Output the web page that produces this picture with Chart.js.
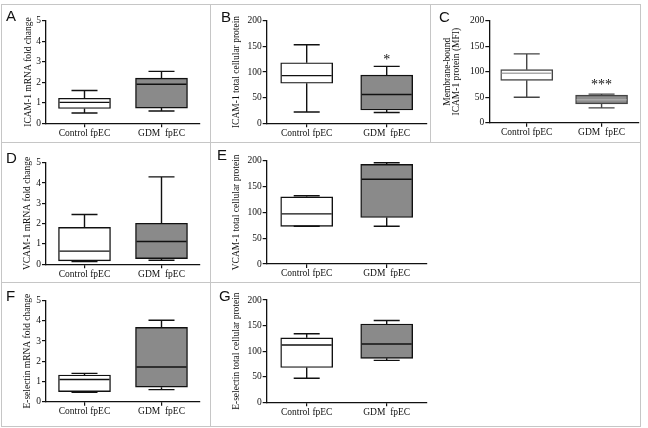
<!DOCTYPE html>
<html><head><meta charset="utf-8">
<script src="https://cdn.jsdelivr.net/npm/chart.js@4.4.0/dist/chart.umd.min.js"></script>
<style>
html,body{margin:0;padding:0;background:#fff;}
#wrap{position:relative;width:648px;height:428px;overflow:hidden;background:#fff;}
.ln{position:absolute;background:#c6c6c6;}
canvas{position:absolute;}
.lt{position:absolute;font-family:"Liberation Sans",Arial,sans-serif;font-size:15px;line-height:15px;color:#111;}
</style></head><body><div id="wrap"></div>
<script>
// categories
const categories = ['Control fpEC', 'GDM  fpEC'];
// box statistics: [min, q1, median, q3, max]
const icamMrnaControl    = [0.50, 0.72, 1.02, 1.22, 1.60];
const icamMrnaGdm        = [0.60, 0.74, 1.90, 2.20, 2.53];
const icamProteinControl = [22, 78, 93, 118, 153];
const icamProteinGdm     = [21, 26, 56, 94, 111];
const icamMfiControl     = [50, 83, 97, 104, 135];
const icamMfiGdm         = [29, 37, 45, 54, 56];
const vcamMrnaControl    = [0.13, 0.17, 0.65, 1.82, 2.45];
const vcamMrnaGdm        = [0.20, 0.28, 1.12, 2.02, 4.30];
const vcamProteinControl = [73, 73, 97, 130, 132];
const vcamProteinGdm     = [73, 90, 164, 193, 196];
const eselMrnaControl    = [0.46, 0.50, 1.10, 1.32, 1.40];
const eselMrnaGdm        = [0.60, 0.72, 1.72, 3.68, 4.03];
const eselProteinControl = [47, 68, 112, 126, 134];
const eselProteinGdm     = [82, 86, 114, 153, 160];
// significance marks and the value they sit at
const icamProteinStars = ['', '*'];
const icamProteinStarAt = [0, 116];
const icamMfiStars = ['', '***'];
const icamMfiStarAt = [0, 67];
const noStars = ['', ''];
const noStarAt = [0, 0];
// tick labels
const foldTicks = [0, 1, 2, 3, 4, 5];
const proteinTicks = [0, 50, 100, 150, 200];

const SERIF = '"Liberation Serif","Times New Roman",serif';
const INK = '#111';

const boxPlugin = {
  id: 'boxWhisker',
  afterDatasetsDraw(chart, args, o) {
    const ctx = chart.ctx, y = chart.scales.y;
    const meta = chart.getDatasetMeta(0);
    ctx.save();
    ctx.lineCap = 'butt';
    meta.data.forEach((bar, i) => {
      const s = o.stats[i];
      const x = bar.x, hw = bar.width / 2, cw = hw / 2;
      const pMin = y.getPixelForValue(s[0]), pQ1 = y.getPixelForValue(s[1]),
            pMed = y.getPixelForValue(s[2]), pQ3 = y.getPixelForValue(s[3]),
            pMax = y.getPixelForValue(s[4]);
      ctx.strokeStyle = o.lineColor;
      ctx.lineWidth = o.lineWidth;
      ctx.beginPath();
      if (s[4] > s[3]) {
        ctx.moveTo(x, pQ3); ctx.lineTo(x, pMax);
      }
      ctx.moveTo(x - cw, pMax); ctx.lineTo(x + cw, pMax);
      if (s[0] < s[1]) {
        ctx.moveTo(x, pQ1); ctx.lineTo(x, pMin);
      }
      ctx.moveTo(x - cw, pMin); ctx.lineTo(x + cw, pMin);
      ctx.stroke();
      ctx.beginPath();
      ctx.strokeStyle = o.medianColor;
      ctx.moveTo(x - hw + 1, pMed); ctx.lineTo(x + hw - 1, pMed);
      ctx.stroke();
      if (o.stars[i]) {
        ctx.fillStyle = INK;
        ctx.font = '14px ' + SERIF;
        ctx.textAlign = 'center';
        ctx.textBaseline = 'alphabetic';
        ctx.fillText(o.stars[i], x, y.getPixelForValue(o.starAt[i]));
      }
    });
    ctx.restore();
  }
};

const panels = [
  {letter:'A', title:'ICAM-1 mRNA fold change', stats:[icamMrnaControl, icamMrnaGdm], ticks:foldTicks, stars:noStars, starAt:noStarAt,
   rect:[1,4,210,139], area:[46,200,20.7,123.3], titleX:28, lp:[6,21]},
  {letter:'B', title:'ICAM-1 total cellular protein', stats:[icamProteinControl, icamProteinGdm], ticks:proteinTicks, stars:icamProteinStars, starAt:icamProteinStarAt,
   rect:[211,4,220,139], area:[266.7,426.7,20.7,123.3], titleX:236.7, lp:[221,21.7]},
  {letter:'C', title:['Membrane-bound','ICAM-1 protein (MFI)'], stats:[icamMfiControl, icamMfiGdm], ticks:proteinTicks, stars:icamMfiStars, starAt:icamMfiStarAt,
   rect:[431,4,209,139], area:[489.3,639,20.7,122.7], titleX:447, lp:[439,22], titleLH:1.0, lineColor:'#444', medianColor:'#aaa', gdmFill:'#8e8e8e'},
  {letter:'D', title:'VCAM-1 mRNA fold change', stats:[vcamMrnaControl, vcamMrnaGdm], ticks:foldTicks, stars:noStars, starAt:noStarAt,
   rect:[1,143,210,139], area:[46,200,162.7,264.3], titleX:27.5, lp:[6,163]},
  {letter:'E', title:'VCAM-1 total cellular protein', stats:[vcamProteinControl, vcamProteinGdm], ticks:proteinTicks, stars:noStars, starAt:noStarAt,
   rect:[211,143,220,139], area:[266.7,426.7,160.7,264], titleX:236.5, lp:[217,160]},
  {letter:'F', title:'E-selectin mRNA fold change', stats:[eselMrnaControl, eselMrnaGdm], ticks:foldTicks, stars:noStars, starAt:noStarAt,
   rect:[1,282,210,144], area:[46,200,300.7,401.7], titleX:27.5, lp:[6,301]},
  {letter:'G', title:'E-selectin total cellular protein', stats:[eselProteinControl, eselProteinGdm], ticks:proteinTicks, stars:noStars, starAt:noStarAt,
   rect:[211,282,220,144], area:[266.7,426.7,300,402.3], titleX:236.5, lp:[219,301]}
];

const wrap = document.getElementById('wrap');
function line(x, y, w, h) {
  const d = document.createElement('div');
  d.className = 'ln';
  d.style.left = x + 'px'; d.style.top = y + 'px';
  d.style.width = w + 'px'; d.style.height = h + 'px';
  wrap.appendChild(d);
}
// panel frame lines
line(1, 4, 640, 1);
line(1, 426, 640, 1);
line(1, 4, 1, 423);
line(640, 4, 1, 423);
line(210, 4, 1, 423);
line(430, 4, 1, 139);
line(1, 142, 640, 1);
line(1, 282, 640, 1);

panels.forEach(p => {
  const [bx, by, bw, bh] = p.rect;
  const [l, r, t, b] = p.area;
  const lhF = p.titleLH || 1.2;
  const tSize = 9.5;
  const padL = p.titleX - (tSize * lhF) / 2 - bx;
  const padT = t - by;
  const padR = bx + bw - r;
  const xH = by + bh - b;
  const yW = l - bx - padL;
  const cv = document.createElement('canvas');
  cv.width = bw; cv.height = bh;
  cv.style.left = bx + 'px'; cv.style.top = by + 'px';
  cv.style.width = bw + 'px'; cv.style.height = bh + 'px';
  wrap.appendChild(cv);
  const lt = document.createElement('div');
  lt.className = 'lt';
  lt.textContent = p.letter;
  lt.style.left = p.lp[0] + 'px';
  lt.style.top = (p.lp[1] - 12.7) + 'px';
  wrap.appendChild(lt);
  const lineColor = p.lineColor || INK;
  new Chart(cv, {
    type: 'bar',
    data: {
      labels: categories,
      datasets: [{
        data: p.stats.map(s => [s[1], s[3]]),
        backgroundColor: ['#ffffff', p.gdmFill || '#8a8a8a'],
        borderColor: lineColor,
        borderWidth: 1.4,
        borderSkipped: false,
        barThickness: 52
      }]
    },
    options: {
      responsive: false,
      animation: false,
      devicePixelRatio: 1,
      layout: {padding: {left: padL, top: padT, right: padR, bottom: 0}},
      plugins: {
        legend: {display: false},
        tooltip: {enabled: false},
        boxWhisker: {stats: p.stats, stars: p.stars, starAt: p.starAt, lineColor: lineColor, lineWidth: 1.4, medianColor: p.medianColor || INK}
      },
      scales: {
        x: {
          type: 'category',
          offset: true,
          grid: {display: true, drawOnChartArea: false, drawTicks: true, tickLength: 4, offset: false, color: INK, tickColor: INK, lineWidth: 1.2},
          border: {display: true, color: INK, width: 1.3},
          ticks: {font: {family: SERIF, size: tSize}, color: INK, padding: 0, maxRotation: 0, autoSkip: false},
          afterFit(s) { s.height = xH; }
        },
        y: {
          min: p.ticks[0],
          max: p.ticks[p.ticks.length - 1],
          afterBuildTicks(s) { s.ticks = p.ticks.map(v => ({value: v})); },
          grid: {display: true, drawOnChartArea: false, drawTicks: true, tickLength: 4, color: INK, tickColor: INK, lineWidth: 1.2},
          border: {display: true, color: INK, width: 1.3},
          ticks: {font: {family: SERIF, size: tSize}, color: INK, padding: 1},
          title: {display: true, text: p.title, font: {family: SERIF, size: tSize, lineHeight: lhF}, padding: 0, color: INK},
          afterFit(s) { s.width = yW; }
        }
      }
    },
    plugins: [boxPlugin]
  });
});
</script>
</body></html>
